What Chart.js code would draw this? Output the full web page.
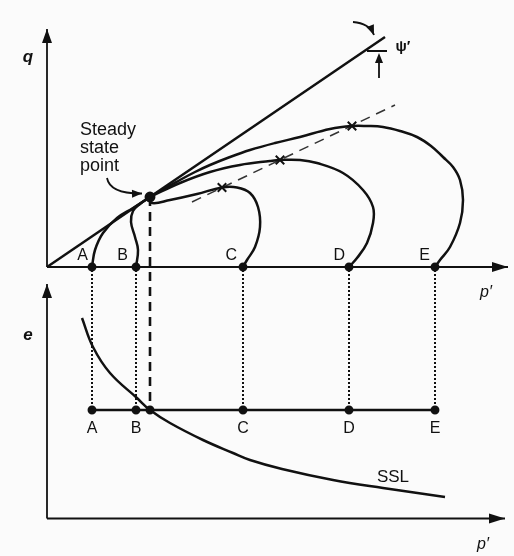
<!DOCTYPE html>
<html>
<head>
<meta charset="utf-8">
<script src="https://cdn.jsdelivr.net/npm/chart.js@4.4.1/dist/chart.umd.min.js"></script>
<style>
  html, body { margin: 0; padding: 0; background: #fbfbfb; }
  #wrap { width: 514px; height: 556px; }
</style>
</head>
<body>
<div id="wrap"><canvas id="myChart" width="514" height="556"></canvas></div>
<script>
// tests A..E all start at the same void ratio, different p'
const categories = ['A', 'B', 'C', 'D', 'E'];
const startP = [9, 17.8, 39.2, 60.4, 77.6];
const startE = 21.7;
const dottedTopE = 49.7;

const steady = [20.6, 14];
const steadyDropQ = -28.6;
const cslEnd = [67.6, 46];

// undrained stress paths in q - p'
const pathA = [[9, 0], [9.6, 3.4], [11.2, 6.8], [14, 9.8], [17.2, 11.8], [20.6, 14]];
const pathB = [[17.8, 0], [18.2, 3.4], [17.6, 6], [16.8, 9], [17.2, 11.2], [18.6, 12.6], [20.6, 14]];
const pathC = [[39.2, 0], [40, 1.4], [41.6, 4], [42.6, 8], [42.2, 12], [40.6, 14.8], [38, 15.9],
  [35, 15.9], [30, 14.6], [24.6, 13.4], [21, 12.8], [20.6, 14]];
const pathD = [[60.4, 0], [62, 1.8], [64, 4.8], [65.2, 8.8], [65.2, 12], [63.2, 15.4], [59.2, 18.8],
  [54, 20.8], [50.6, 21.4], [46.6, 21.4], [44.6, 21.2], [38.6, 20.4], [32.6, 19], [26.6, 16.8], [20.6, 14]];
const pathE = [[77.6, 0], [78.6, 1.4], [80.6, 4], [82.6, 8.8], [83.2, 13.4], [82.6, 17.4], [81.2, 20],
  [79.2, 22], [76.8, 24.2], [74, 26], [70.6, 27.2], [67.2, 28], [64, 28.2], [61, 28.2], [56.6, 27.6],
  [50.6, 26], [45.6, 24.8], [40.6, 23.4], [36.6, 22], [32.6, 20.4], [29.6, 19], [26.6, 17.4],
  [22.6, 15.2], [20.6, 14]];

// peak points (x) and the line through them
const peaks = [[35, 15.9], [46.6, 21.4], [61, 28.2]];
const peakLine = [[29, 13], [69.6, 32.4]];

// steady state line in e - p'
const ssl = [[7, 40.1], [9.2, 34.3], [12.6, 29.1], [18, 24.1], [20.6, 21.7], [24.6, 19.1], [31.2, 15.7],
  [37.2, 13.1], [40.6, 11.7], [47, 9.9], [57.2, 7.7], [67.2, 6.1], [79.6, 4.3]];

// axis tips
const qAxisTip = [0, 47.6];
const pTopTip = [92.2, 0];
const eAxisTip = [0, 46.9];
const pBottomTip = [91.6, 0];

// small horizontal nudges for the letters above the p' axis (px)
const topLabelNudge = [-4, -8, -6, -4, -5];

const INK = '#111';
const FONT = '"Liberation Sans", Arial, sans-serif';

const pts = arr => arr.map(z => ({x: z[0], y: z[1]}));

function line(data, extra) {
  return Object.assign({
    data: pts(data),
    showLine: true,
    borderColor: INK,
    backgroundColor: INK,
    borderWidth: 2.5,
    pointRadius: 0,
    tension: 0,
    clip: false,
    yAxisID: 'y'
  }, extra || {});
}

const datasets = [
  // axes
  line([[0, 0], qAxisTip], {borderWidth: 1.8}),
  line([[0, 0], pTopTip], {borderWidth: 1.8}),
  line([[0, 0], eAxisTip], {borderWidth: 1.8, yAxisID: 'e'}),
  line([[0, 0], pBottomTip], {borderWidth: 1.8, yAxisID: 'e'}),
  // critical state line
  line([[0, 0], cslEnd], {borderWidth: 2.5}),
  // stress paths
  line(pathA, {tension: 0.4}),
  line(pathB, {tension: 0.4}),
  line(pathC, {tension: 0.4}),
  line(pathD, {tension: 0.4}),
  line(pathE, {tension: 0.4}),
  line(peakLine, {borderWidth: 1.5, borderColor: '#333', borderDash: [10, 7]}),
  line(peaks, {showLine: false, pointStyle: 'crossRot', pointRadius: 6, pointBorderWidth: 2}),
  line(startP.map(p => [p, 0]), {showLine: false, pointRadius: 3.2}),
  line([steady], {showLine: false, pointRadius: 4.2}),
  line([steady, [steady[0], steadyDropQ]], {borderWidth: 2.6, borderDash: [9, 6]}),
  // e - p' panel
  ...startP.map(p => line([[p, dottedTopE], [p, startE]], {borderWidth: 2, borderDash: [2, 2], yAxisID: 'e'})),
  line([[steady[0], startE], ...startP.map(p => [p, startE])].sort((a, b) => a[0] - b[0]),
    {yAxisID: 'e', pointRadius: 3.2}),
  line(ssl, {tension: 0.4, yAxisID: 'e'})
];

function arrowHead(ctx, x, y, ang, len, half) {
  const bx = x - len * Math.cos(ang), by = y - len * Math.sin(ang);
  const nx = -Math.sin(ang) * half, ny = Math.cos(ang) * half;
  ctx.beginPath();
  ctx.moveTo(x, y);
  ctx.lineTo(bx + nx, by + ny);
  ctx.lineTo(bx - nx, by - ny);
  ctx.closePath();
  ctx.fill();
}

function curvedArrow(ctx, a, c, b) {
  ctx.beginPath();
  ctx.moveTo(a[0], a[1]);
  ctx.quadraticCurveTo(c[0], c[1], b[0], b[1]);
  ctx.stroke();
  arrowHead(ctx, b[0], b[1], Math.atan2(b[1] - c[1], b[0] - c[0]), 10, 4);
}

const overlay = {
  id: 'overlay',
  afterDatasetsDraw(chart) {
    const {ctx, scales} = chart;
    const X = v => scales.x.getPixelForValue(v);
    const Q = v => scales.y.getPixelForValue(v);
    const E = v => scales.e.getPixelForValue(v);
    ctx.save();
    ctx.fillStyle = INK;
    ctx.strokeStyle = INK;
    ctx.lineWidth = 1.8;

    // axis arrows
    arrowHead(ctx, X(qAxisTip[0]), Q(qAxisTip[1]), -Math.PI / 2, 14, 5);
    arrowHead(ctx, X(pTopTip[0]), Q(pTopTip[1]), 0, 16, 5);
    arrowHead(ctx, X(eAxisTip[0]), E(eAxisTip[1]), -Math.PI / 2, 14, 5);
    arrowHead(ctx, X(pBottomTip[0]), E(pBottomTip[1]), 0, 16, 5);

    // steady state point arrow
    curvedArrow(ctx, [X(12), Q(17.8)], [X(12.6), Q(14.6)], [X(19), Q(14.7)]);
    // psi' marks
    curvedArrow(ctx, [X(61.2), Q(49)], [X(64.4), Q(48.8)], [X(65.4), Q(46.4)]);
    ctx.beginPath();
    ctx.moveTo(X(64), Q(43.2));
    ctx.lineTo(X(68), Q(43.2));
    ctx.moveTo(X(66.4), Q(37.8));
    ctx.lineTo(X(66.4), Q(41));
    ctx.stroke();
    arrowHead(ctx, X(66.4), Q(42.8), -Math.PI / 2, 10, 4);

    ctx.textBaseline = 'middle';
    // axis titles
    ctx.textAlign = 'center';
    ctx.font = 'italic bold 17px ' + FONT;
    ctx.fillText('q', X(-3.8), Q(42));
    ctx.fillText('e', X(-3.8), E(36.7));
    ctx.font = 'italic 16px ' + FONT;
    ctx.fillText('p\u2032', X(87.8), Q(-5.2));
    ctx.fillText('p\u2032', X(87.2), E(-5.3));
    ctx.font = 'bold 15px ' + FONT;
    ctx.fillText('\u03C8\u2032', X(71.2), Q(44));

    // letters
    ctx.font = '16px ' + FONT;
    ctx.textAlign = 'right';
    categories.forEach((c, i) => ctx.fillText(c, X(startP[i]) + topLabelNudge[i], Q(0) - 11));
    ctx.textAlign = 'center';
    categories.forEach((c, i) => ctx.fillText(c, X(startP[i]), E(startE) + 19));

    ctx.font = '17px ' + FONT;
    ctx.fillText('SSL', X(69.2), E(8.3));
    ctx.font = '18px ' + FONT;
    ctx.textAlign = 'left';
    ctx.fillText('Steady', X(6.6), Q(27.4));
    ctx.fillText('state', X(6.6), Q(23.8));
    ctx.fillText('point', X(6.6), Q(20.2));
    ctx.restore();
  }
};

const chart = new Chart(document.querySelector('#myChart').getContext('2d'), {
  type: 'scatter',
  data: {datasets: datasets},
  options: {
    responsive: false,
    animation: false,
    layout: {padding: 0, autoPadding: false},
    plugins: {legend: {display: false}, tooltip: {enabled: false}},
    scales: {
      x: {type: 'linear', min: -9.4, max: 93.4, display: false},
      y: {type: 'linear', min: -57.8, max: 53.4, display: false},
      e: {type: 'linear', min: -7.5, max: 103.7, display: false}
    }
  },
  plugins: [overlay]
});
</script>
</body>
</html>
